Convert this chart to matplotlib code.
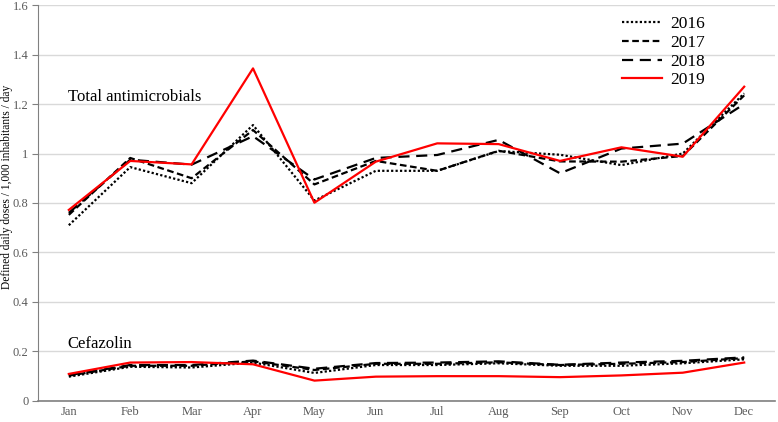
import matplotlib.pyplot as plt
import numpy as np

plt.rcParams['font.family'] = ['Liberation Serif', 'DejaVu Serif']

months = ['Jan', 'Feb', 'Mar', 'Apr', 'May', 'Jun', 'Jul', 'Aug', 'Sep', 'Oct', 'Nov', 'Dec']
years = ['2016', '2017', '2018', '2019']

# total antimicrobials (DDD / 1,000 inhabitants / day)
total_2016 = [0.71, 0.945, 0.88, 1.115, 0.81, 0.93, 0.93, 1.01, 0.995, 0.953, 1.0, 1.243]
total_2017 = [0.752, 0.982, 0.90, 1.095, 0.875, 0.97, 0.93, 1.011, 0.968, 0.967, 0.99, 1.235]
total_2018 = [0.76, 0.975, 0.955, 1.07, 0.895, 0.982, 0.994, 1.055, 0.92, 1.02, 1.04, 1.20]
total_2019 = [0.772, 0.97, 0.956, 1.344, 0.801, 0.967, 1.041, 1.038, 0.97, 1.025, 0.987, 1.27]

# cefazolin
cefa_2016 = [0.098, 0.138, 0.135, 0.155, 0.113, 0.145, 0.145, 0.152, 0.142, 0.142, 0.152, 0.168]
cefa_2017 = [0.102, 0.142, 0.142, 0.160, 0.125, 0.150, 0.150, 0.156, 0.145, 0.150, 0.157, 0.173]
cefa_2018 = [0.104, 0.145, 0.145, 0.163, 0.130, 0.153, 0.155, 0.160, 0.146, 0.155, 0.162, 0.176]
cefa_2019 = [0.109, 0.155, 0.157, 0.148, 0.082, 0.098, 0.100, 0.100, 0.096, 0.103, 0.114, 0.155]

styles = [
    dict(color='black', linestyle=(0, (1, 1)), linewidth=1.6),
    dict(color='black', linestyle=(0, (3, 1.6)), linewidth=1.6),
    dict(color='black', linestyle=(0, (5, 3)), linewidth=1.6),
    dict(color='#ff0000', linestyle='-', linewidth=1.6),
]

fig = plt.figure(figsize=(7.78, 4.22), dpi=100)
ax = fig.add_axes([0.049, 0.05, 0.947, 0.938])

x = np.arange(len(months))
totals = [total_2016, total_2017, total_2018, total_2019]
cefas = [cefa_2016, cefa_2017, cefa_2018, cefa_2019]
for yr, tot, cef, st in zip(years, totals, cefas, styles):
    ax.plot(x, tot, label=yr, **st)
    ax.plot(x, cef, **st)

ax.set_xlim(-0.5, 11.5)
ax.set_ylim(0, 1.6)
ax.set_xticks(x)
ax.set_xticklabels(months)
ax.set_yticks([0, 0.2, 0.4, 0.6, 0.8, 1.0, 1.2, 1.4, 1.6])
ax.set_yticklabels(['0', '0.2', '0.4', '0.6', '0.8', '1', '1.2', '1.4', '1.6'])
ax.tick_params(axis='both', labelsize=9, colors='#595959')
ax.tick_params(axis='x', length=0, pad=4)
ax.tick_params(axis='y', length=4, color='#808080', pad=3)
ax.grid(axis='y', color='#d9d9d9', linewidth=1)
ax.set_axisbelow(True)
for s in ['top', 'right']:
    ax.spines[s].set_visible(False)
ax.spines['left'].set_color('#808080')
ax.spines['bottom'].set_color('#808080')
ax.spines['bottom'].set_linewidth(1.2)

ax.set_ylabel('Defined daily doses / 1,000 inhabitants / day', fontsize=8.3, va='center')
ax.yaxis.set_label_coords(-0.042, 0.54)
ax.text(-0.02, 1.212, 'Total antimicrobials', fontsize=12, va='baseline')
ax.text(-0.02, 0.214, 'Cefazolin', fontsize=12, va='baseline')

leg = ax.legend(loc='upper right', bbox_to_anchor=(0.927, 1.012), frameon=False,
                fontsize=12.5, handlelength=2.3, labelspacing=0.15, handletextpad=0.5)

fig.savefig('out.png', dpi=100)
